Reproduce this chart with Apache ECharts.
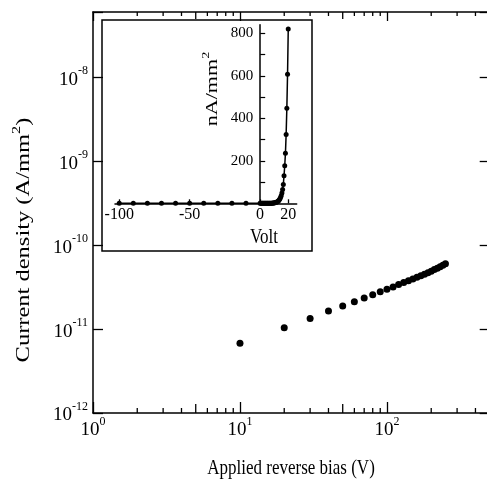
<!DOCTYPE html>
<html>
<head>
<meta charset="utf-8">
<script src="https://cdn.jsdelivr.net/npm/echarts@6/dist/echarts.min.js"></script>
<style>
html,body{margin:0;padding:0;background:#fff;}
#chart{width:487px;height:485px;}
</style>
</head>
<body>
<div id="chart"></div>
<script>
// ---- Main plot data: applied reverse bias (V) vs current density (A/mm^2)
var biasVolts = [10,20,30,40,50,60,70,80,90,100,110,120,130,140,150,160,170,180,190,200,210,220,230,240,250];
var currentDensity = [6.8e-12,1.04e-11,1.34e-11,1.64e-11,1.88e-11,2.11e-11,2.34e-11,2.57e-11,2.79e-11,2.99e-11,3.18e-11,3.39e-11,3.58e-11,3.77e-11,3.95e-11,4.14e-11,4.32e-11,4.49e-11,4.68e-11,4.89e-11,5.11e-11,5.32e-11,5.53e-11,5.75e-11,6.0e-11];

// ---- Inset data: Volt vs nA/mm^2
var insetVolt = [-100,-90,-80,-70,-60,-50,-40,-30,-20,-10,
  0,0.5,1,1.5,2,2.5,3,3.5,4,4.5,5,5.5,6,6.5,7,7.5,8,8.5,9,9.5,10,10.5,11,11.5,12,12.5,13,13.5,14,14.5,15,15.5,16,16.5,17,17.5,18,18.5,19,19.5,20];
var insetCurrent = [0.2,0.2,0.2,0.2,0.2,0.2,0.2,0.2,0.2,0.2,
  0,0.02,0.03,0.04,0.06,0.08,0.1,0.12,0.15,0.18,0.2,0.25,0.3,0.35,0.4,0.5,0.6,0.8,1.0,1.3,1.8,2.5,3.3,4.5,6,8,11,15,20,27,36,48,65,89,130,177,235,324,447,607,820];

// ---- Axis tick values
var mainXMinorTicks = [2,3,4,5,6,7,8,9,20,30,40,50,60,70,80,90,200,300,400];
var insetXTicks = [-100,-50,0,20];
var insetYTicks = [100,200,300,400,500,600,700,800];
var insetYLabels = [200,400,600,800];

var SERIF = '"Liberation Serif", "DejaVu Serif", serif';

function powLabel(v){
  var lg = Math.log10(v);
  var e = Math.round(lg);
  if (Math.abs(lg - e) > 1e-6) return '';
  return '{b|10}{s|' + e + '}';
}
var powRich = {
  b: {fontSize: 19, fontFamily: SERIF, color: '#000', lineHeight: 24, verticalAlign: 'bottom'},
  s: {fontSize: 12, fontFamily: SERIF, color: '#000', verticalAlign: 'top', lineHeight: 13}
};
var titleRich = {
  a: {fontSize: 18, fontFamily: SERIF, fill: '#000', lineHeight: 22, verticalAlign: 'bottom'},
  s: {fontSize: 12, fontFamily: SERIF, fill: '#000', verticalAlign: 'top', lineHeight: 12}
};
var insetTitleRich = {
  a: {fontSize: 17, fontFamily: SERIF, fill: '#000', lineHeight: 21, verticalAlign: 'bottom'},
  s: {fontSize: 11, fontFamily: SERIF, fill: '#000', verticalAlign: 'top', lineHeight: 12}
};

var chart = echarts.init(document.getElementById('chart'), null, {renderer: 'canvas'});

var minorData = mainXMinorTicks.map(function(v){ return [v, 1e-12]; });

var option = {
  animation: false,
  backgroundColor: '#fff',
  grid: [
    {left: 93, top: 12, width: 396.7, height: 401, outerBoundsMode: 'none', containLabel: false},
    {left: 115, top: 24.8, width: 181.7, height: 178.5, outerBoundsMode: 'none', containLabel: false}
  ],
  xAxis: [
    {
      type: 'log', logBase: 10, min: 1, max: 500, gridIndex: 0, position: 'bottom',
      axisLine: {lineStyle: {color: '#000', width: 1.5}},
      axisTick: {inside: true, length: 11, lineStyle: {color: '#000', width: 1.3}},
      minorTick: {show: false},
      splitLine: {show: false},
      axisLabel: {formatter: powLabel, rich: powRich, margin: 3, showMinLabel: true, showMaxLabel: true}
    },
    {
      type: 'log', logBase: 10, min: 1, max: 500, gridIndex: 0, position: 'top',
      axisLine: {lineStyle: {color: '#000', width: 1.5}},
      axisTick: {inside: true, length: 9, lineStyle: {color: '#000', width: 1.3}},
      splitLine: {show: false},
      axisLabel: {show: false}
    },
    {
      type: 'value', min: -103, max: 26, gridIndex: 1,
      axisLine: {onZero: false, lineStyle: {color: '#000', width: 1.5}},
      axisTick: {inside: true, length: 4, customValues: insetXTicks, lineStyle: {color: '#000', width: 1.3}},
      splitLine: {show: false},
      axisLabel: {customValues: insetXTicks, fontSize: 16, fontFamily: SERIF, color: '#000', margin: 3}
    }
  ],
  yAxis: [
    {
      type: 'log', logBase: 10, min: 1e-12, max: 6e-8, gridIndex: 0, position: 'left',
      axisLine: {lineStyle: {color: '#000', width: 1.5}},
      axisTick: {inside: true, length: 10, lineStyle: {color: '#000', width: 1.3}},
      splitLine: {show: false},
      axisLabel: {formatter: powLabel, rich: powRich, margin: 5, showMinLabel: true}
    },
    {
      type: 'log', logBase: 10, min: 1e-12, max: 6e-8, gridIndex: 0, position: 'right',
      axisLine: {lineStyle: {color: '#000', width: 1.5}},
      axisTick: {inside: true, length: 10, lineStyle: {color: '#000', width: 1.3}},
      splitLine: {show: false},
      axisLabel: {show: false}
    },
    {
      type: 'value', min: 0, max: 840, gridIndex: 1, position: 'left', offset: -145.2,
      axisLine: {onZero: false, lineStyle: {color: '#000', width: 1.5}},
      axisTick: {inside: true, length: 5, customValues: insetYTicks, lineStyle: {color: '#000', width: 1.2}},
      splitLine: {show: false},
      axisLabel: {customValues: insetYLabels, fontSize: 15, fontFamily: SERIF, color: '#000', margin: 7}
    }
  ],
  graphic: [
    {type: 'rect', shape: {x: 102, y: 20, width: 210, height: 231}, style: {fill: 'none', stroke: '#000', lineWidth: 1.5}, z: 100},
    {type: 'text', x: 291, y: 468, scaleY: 1.25, style: {text: 'Applied reverse bias (V)', fontSize: 17, fontFamily: SERIF, fill: '#000', align: 'center', verticalAlign: 'middle'}},
    {type: 'text', x: 22, y: 240, rotation: Math.PI / 2, scaleX: 1.36, style: {
      text: '{a|Current density (A/mm}{s|2}{a|)}', align: 'center', verticalAlign: 'middle', rich: titleRich
    }},
    {type: 'text', x: 264, y: 237, scaleY: 1.25, style: {text: 'Volt', fontSize: 17, fontFamily: SERIF, fill: '#000', align: 'center', verticalAlign: 'middle'}},
    {type: 'text', x: 211, y: 89, rotation: Math.PI / 2, scaleX: 1.3, style: {
      text: '{a|nA/mm}{s|2}', align: 'center', verticalAlign: 'middle', rich: insetTitleRich
    }}
  ],
  series: [
    {
      type: 'scatter', xAxisIndex: 0, yAxisIndex: 0,
      data: biasVolts.map(function(v, i){ return [v, currentDensity[i]]; }),
      symbol: 'circle', symbolSize: 7, itemStyle: {color: '#000', opacity: 1}
    },
    {
      type: 'custom', xAxisIndex: 0, yAxisIndex: 0, clip: false, silent: true,
      data: minorData,
      renderItem: function(params, api){
        var v = api.value(0);
        var bottom = api.coord([v, 1e-12]);
        var top = api.coord([v, 6e-8]);
        var mant = v / Math.pow(10, Math.floor(Math.log10(v) + 1e-9));
        var lenB = Math.abs(mant - 5) < 1e-6 ? 9 : 5;
        var lenT = Math.abs(mant - 5) < 1e-6 ? 7 : 4;
        var st = {stroke: '#000', lineWidth: 1.3};
        return {type: 'group', children: [
          {type: 'line', shape: {x1: bottom[0], y1: bottom[1], x2: bottom[0], y2: bottom[1] - lenB}, style: st},
          {type: 'line', shape: {x1: top[0], y1: top[1], x2: top[0], y2: top[1] + lenT}, style: st}
        ]};
      }
    },
    {
      type: 'line', xAxisIndex: 2, yAxisIndex: 2,
      data: insetVolt.map(function(v, i){ return [v, insetCurrent[i]]; }),
      symbol: 'circle', symbolSize: 5, showSymbol: true, showAllSymbol: true,
      itemStyle: {color: '#000', opacity: 1}, lineStyle: {color: '#000', width: 1.5}
    }
  ]
};
chart.setOption(option);
</script>
</body>
</html>
